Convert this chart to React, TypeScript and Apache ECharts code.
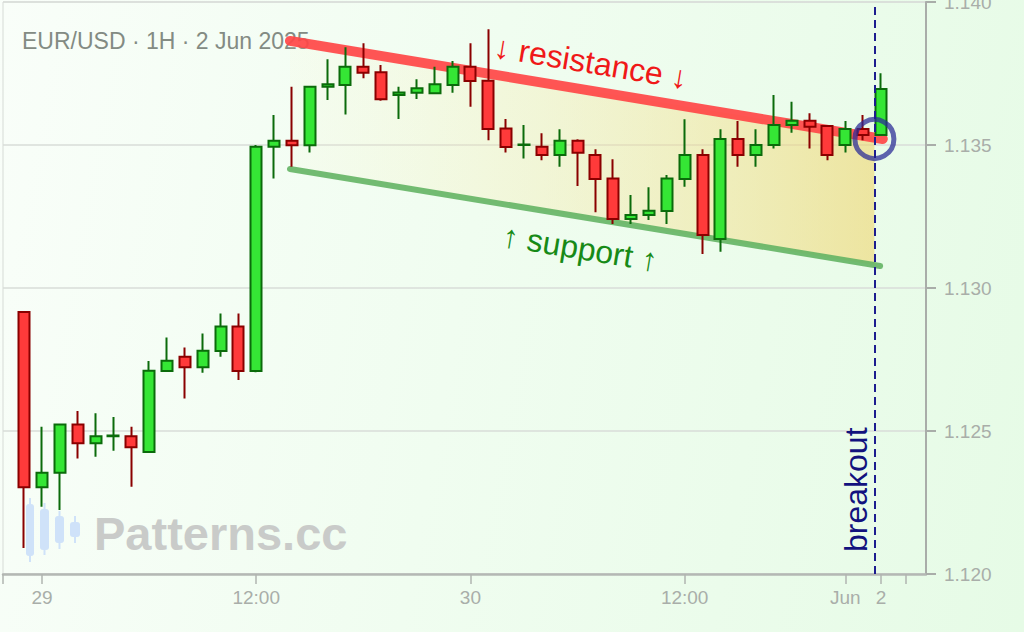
import { useEffect, useRef } from "react";
import * as echarts from "echarts";

// hourly candles, slot 0 = 28 May 23:00 (weekend gap removed)
const slots = [
  0, 1, 2, 3, 4, 5, 6, 7, 8, 9, 10, 11, 12, 13, 14, 15, 16, 17, 18, 19, 20, 21,
  22, 23, 24, 25, 26, 27, 28, 29, 30, 31, 32, 33, 34, 35, 36, 37, 38, 39, 40,
  41, 42, 43, 44, 45, 46, 47, 48,
];
const opens = [
  1.12916, 1.12303, 1.12354, 1.12523, 1.12457, 1.12482, 1.12482, 1.12427,
  1.1271, 1.1276, 1.12723, 1.1278, 1.12865, 1.1271, 1.13494, 1.13515, 1.13499,
  1.13704, 1.1371, 1.13774, 1.13754, 1.13675, 1.13683, 1.13681, 1.1371,
  1.13774, 1.13725, 1.13558, 1.135, 1.13494, 1.13465, 1.13515, 1.13465,
  1.13383, 1.13241, 1.13255, 1.13269, 1.13381, 1.13465, 1.13171, 1.13521,
  1.13465, 1.135, 1.1357, 1.13585, 1.13566, 1.135, 1.13556, 1.13535,
];
const closes = [
  1.12303, 1.12354, 1.12523, 1.12457, 1.12482, 1.12484, 1.12443, 1.12711,
  1.12746, 1.12723, 1.12781, 1.12865, 1.1271, 1.13494, 1.13515, 1.13499,
  1.13704, 1.13712, 1.13774, 1.13753, 1.1366, 1.13684, 1.13698, 1.13712,
  1.13774, 1.13724, 1.13556, 1.13493, 1.13502, 1.13465, 1.13515, 1.13473,
  1.13381, 1.13241, 1.13255, 1.1327, 1.13383, 1.13465, 1.13185, 1.13521,
  1.13465, 1.135, 1.1357, 1.13585, 1.13564, 1.13465, 1.13556, 1.13535, 1.13696,
];
const lows = [
  1.12091, 1.12235, 1.12224, 1.12404, 1.1241, 1.12431, 1.12305, 1.12425,
  1.12708, 1.12614, 1.12704, 1.1276, 1.12678, 1.12705, 1.13383, 1.13424,
  1.13474, 1.13657, 1.13607, 1.13733, 1.13655, 1.13591, 1.13661, 1.13678,
  1.13683, 1.13634, 1.13517, 1.13474, 1.13453, 1.13447, 1.13424, 1.13357,
  1.13265, 1.13224, 1.13224, 1.13238, 1.13224, 1.13354, 1.13119, 1.13127,
  1.13424, 1.13424, 1.13488, 1.13543, 1.13488, 1.13447, 1.13474, 1.13517,
  1.13533,
];
const highs = [
  1.1292, 1.12515, 1.12525, 1.1257, 1.12562, 1.12549, 1.12515, 1.12745,
  1.12827, 1.12792, 1.12841, 1.12911, 1.12911, 1.135, 1.13605, 1.13704,
  1.13707, 1.138, 1.13842, 1.13856, 1.1378, 1.13704, 1.1373, 1.13774, 1.13794,
  1.13856, 1.13905, 1.13591, 1.1357, 1.13541, 1.13555, 1.1352, 1.13485,
  1.1345, 1.13325, 1.13352, 1.13395, 1.1359, 1.13485, 1.13555, 1.13584,
  1.13555, 1.13675, 1.13651, 1.13611, 1.13567, 1.13584, 1.13605, 1.13751,
];

const tickSlots = [1, 13, 25, 37, 46, 48];
const tickLabels = ["29", "12:00", "30", "12:00", "Jun", "2"];
const axisEndSlots = [-1.185, 49.4];

const resistance = [
  [14.89, 1.13864],
  [48.1, 1.13521],
];
const support = [
  [14.89, 1.13416],
  [47.95, 1.13077],
];
const breakoutSlot = 47.63;
const breakoutPrice = 1.13521;

const lineAt = (seg: number[][], x: number) =>
  seg[0][1] + ((seg[1][1] - seg[0][1]) * (x - seg[0][0])) / (seg[1][0] - seg[0][0]);

const channel = [
  resistance[0],
  [breakoutSlot, lineAt(resistance, breakoutSlot)],
  [breakoutSlot, lineAt(support, breakoutSlot)],
  support[0],
];

const FONT = "'Liberation Sans', Arial, sans-serif";

export default function App() {
  const ref = useRef<HTMLDivElement>(null);

  useEffect(() => {
    document.body.style.margin = "0";
    if (!ref.current) return;
    const chart = echarts.init(ref.current, undefined, { renderer: "svg" });

    const logo = [
      { x: 26, y: 504, w: 8, h: 52, t: 498, b: 562 },
      { x: 40, y: 509, w: 9, h: 41, t: 503, b: 555 },
      { x: 55, y: 516, w: 9, h: 27, t: 511, b: 549 },
      { x: 70, y: 522, w: 10, h: 15, t: 516, b: 543 },
    ];

    chart.setOption({
      animation: false,
      textStyle: { fontFamily: FONT },
      grid: {
        left: 3,
        right: 98,
        top: 2,
        bottom: 58,
        show: true,
        borderColor: "#d6dbd6",
        borderWidth: 1,
        outerBoundsMode: "none",
      },
      xAxis: {
        type: "value",
        min: -1.185,
        max: 50.52,
        splitLine: { show: false },
        axisLine: { onZero: false, lineStyle: { color: "#b4b8b4", width: 2.5 } },
        axisTick: {
          customValues: [axisEndSlots[0], ...tickSlots, axisEndSlots[1]],
          length: 10,
          lineStyle: { color: "#b0b4b0", width: 1.5 },
        },
        axisLabel: {
          customValues: tickSlots,
          margin: 14,
          fontSize: 19,
          color: "#a9aea9",
          formatter: (v: number) => tickLabels[tickSlots.indexOf(v)] ?? "",
        },
      },
      yAxis: {
        type: "value",
        position: "right",
        min: 1.12,
        max: 1.14,
        interval: 0.005,
        axisLine: {
          show: true,
          onZero: false,
          lineStyle: { color: "#a9ada9", width: 2 },
        },
        axisTick: { show: true, length: 10, lineStyle: { color: "#a9ada9", width: 2 } },
        axisLabel: {
          margin: 18,
          fontSize: 19,
          color: "#a9aea9",
          formatter: (v: number) => v.toFixed(3),
        },
        splitLine: { lineStyle: { color: "#d8dcd8", width: 1.5 } },
      },
      graphic: [
        {
          type: "text",
          left: 22,
          top: 29,
          style: {
            text: "EUR/USD · 1H · 2 Jun 2025",
            font: `23px ${FONT}`,
            fill: "#838b83",
          },
          z: 1,
        },
        ...logo.flatMap((c) => [
          {
            type: "rect",
            shape: { x: c.x + c.w / 2 - 1, y: c.t, width: 2, height: c.b - c.t },
            style: { fill: "#cfe2f9" },
            z: 0,
          },
          {
            type: "rect",
            shape: { x: c.x, y: c.y, width: c.w, height: c.h, r: 3 },
            style: { fill: "#cfe2f9" },
            z: 0,
          },
        ]),
        {
          type: "text",
          left: 94,
          top: 510,
          style: {
            text: "Patterns.cc",
            font: `bold 47px ${FONT}`,
            fill: "#c9cbc9",
          },
          z: 0,
        },
      ],
      series: [
        {
          type: "custom",
          z: 1,
          silent: true,
          data: [[breakoutSlot, breakoutPrice]],
          renderItem: (_p: unknown, api: any) => ({
            type: "polygon",
            shape: { points: channel.map((pt) => api.coord(pt)) },
            style: {
              fill: new echarts.graphic.LinearGradient(0, 0, 1, 0, [
                { offset: 0, color: "rgba(252,240,190,0.08)" },
                { offset: 1, color: "rgba(240,210,100,0.55)" },
              ]),
            },
          }),
        },
        {
          type: "line",
          z: 2,
          silent: true,
          data: support,
          showSymbol: false,
          lineStyle: { color: "rgba(100,180,100,0.9)", width: 6, cap: "round" },
          markLine: {
            silent: true,
            symbol: ["none", "none"],
            lineStyle: { color: "rgba(0,0,0,0)", width: 1 },
            label: {
              show: true,
              position: "insideMiddleBottom",
              formatter: "↑ support ↑",
              fontSize: 32,
              color: "#178a17",
              distance: [0, 15],
            },
            data: [[{ coord: support[0] }, { coord: support[1] }]],
          },
        },
        {
          type: "line",
          z: 2,
          silent: true,
          data: resistance,
          showSymbol: false,
          lineStyle: { color: "rgba(255,70,70,0.92)", width: 10, cap: "round" },
          markLine: {
            silent: true,
            symbol: ["none", "none"],
            lineStyle: { color: "rgba(0,0,0,0)", width: 1 },
            label: {
              show: true,
              position: "insideMiddleTop",
              formatter: "↓ resistance ↓",
              fontSize: 32,
              color: "#f01818",
              distance: [0, 12],
            },
            data: [[{ coord: resistance[0] }, { coord: resistance[1] }]],
          },
        },
        {
          type: "candlestick",
          z: 3,
          barWidth: 11.5,
          data: slots.map((s, i) => [s, opens[i], closes[i], lows[i], highs[i]]),
          encode: { x: 0, y: [1, 2, 3, 4] },
          itemStyle: {
            color: "#35e635",
            color0: "#ff3a3a",
            borderColor: "#0b6b0b",
            borderColor0: "#8a0000",
            borderWidth: 2,
          },
        },
        {
          type: "scatter",
          z: 4,
          silent: true,
          data: [[breakoutSlot, breakoutPrice]],
          symbol: "circle",
          symbolSize: 39,
          itemStyle: {
            color: "transparent",
            borderColor: "rgba(42,44,150,0.92)",
            borderWidth: 5,
          },
          markLine: {
            silent: true,
            symbol: ["none", "none"],
            lineStyle: { type: [8, 5], color: "#1d1d8f", width: 2 },
            label: {
              position: "insideStartTop",
              formatter: "breakout",
              fontSize: 32,
              color: "#12127e",
              distance: [22, 2],
            },
            data: [{ xAxis: breakoutSlot }],
          },
        },
      ],
    });

    return () => chart.dispose();
  }, []);

  return (
    <div
      ref={ref}
      style={{
        width: 1024,
        height: 632,
        background:
          "linear-gradient(100deg, #f9fef9 0%, #f0fdf0 45%, #e6fbe6 100%)",
      }}
    />
  );
}
